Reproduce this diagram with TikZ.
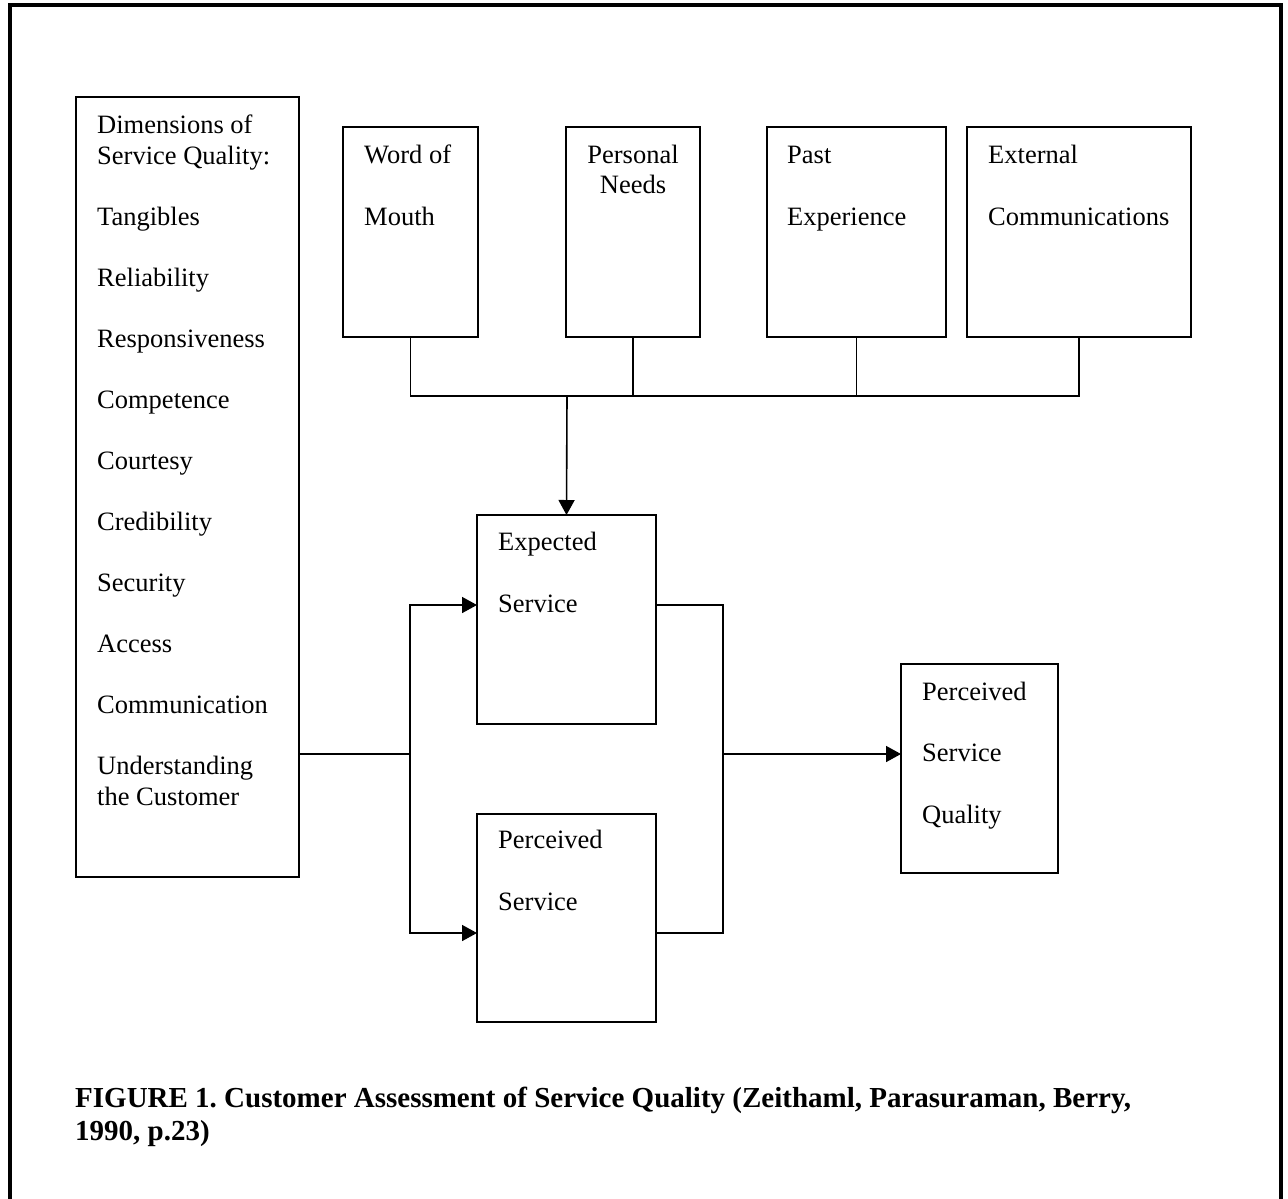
\documentclass[tikz,border=0pt]{standalone}
\usepackage{fontspec}
\setmainfont{Liberation Serif}
\usetikzlibrary{arrows.meta}
\newcommand\bodyfont{\fontsize{26.5bp}{31bp}\selectfont}
\newcommand\captfont{\fontsize{29bp}{33bp}\selectfont\bfseries\frenchspacing}
\begin{document}
\begin{tikzpicture}[x=1bp,y=-1bp,
  box/.style={draw, line width=1.8bp, anchor=north west, inner sep=0pt, outer sep=0pt},
  txt/.style={anchor=base west, inner sep=0pt, font=\bodyfont},
  ctxt/.style={anchor=base, inner sep=0pt, font=\bodyfont},
  wire/.style={line width=1.6bp},
  arr/.style={wire, -{Triangle[length=15bp,width=16bp]}},
  capt/.style={anchor=base west, inner sep=0pt, font=\captfont}]
\useasboundingbox (0,0) rectangle (1288,1199);

% outer frame (open at the bottom edge)
\draw[line width=3.5bp] (10,1199) -- (10,5) -- (1281,5) -- (1281,1199);

% boxes
\node[box, minimum width=223bp, minimum height=780bp] (dims) at (76,97) {};
\node[box, minimum width=135bp, minimum height=210bp] (wom) at (343,127) {};
\node[box, minimum width=134bp, minimum height=210bp] (pn) at (566,127) {};
\node[box, minimum width=179bp, minimum height=210bp] (pe) at (767,127) {};
\node[box, minimum width=224bp, minimum height=210bp] (ec) at (967,127) {};
\node[box, minimum width=179bp, minimum height=209bp] (es) at (477,515) {};
\node[box, minimum width=179bp, minimum height=208bp] (ps) at (477,814) {};
\node[box, minimum width=157bp, minimum height=209bp] (psq) at (901,664) {};

% dimensions list
\node[txt] (dh1) at (97,133) {Dimensions of};
\node[txt] (dh2) at (97,164) {Service Quality:};
\foreach \t [count=\i] in {Tangibles,Reliability,Responsiveness,Competence,Courtesy,Credibility,Security,Access,Communication}
  \node[txt] (d\i) at (97,{225+61*(\i-1)}) {\t};
\node[txt] (d10) at (97,774) {Understanding};
\node[txt] (d11) at (97,805) {the Customer};

% antecedent labels
\node[txt] (wom1) at (364,163) {Word of};
\node[txt] (wom2) at (364,225) {Mouth};
\node[ctxt] (pn1) at (633,163) {Personal};
\node[ctxt] (pn2) at (633,193) {Needs};
\node[txt] (pe1) at (787,163) {Past};
\node[txt] (pe2) at (787,225) {Experience};
\node[txt] (ec1) at (988,163) {External};
\node[txt] (ec2) at (988,225) {Communications};

% service labels
\node[txt] (es1) at (498,550) {Expected};
\node[txt] (es2) at (498,612) {Service};
\node[txt] (ps1) at (498,848) {Perceived};
\node[txt] (ps2) at (498,910) {Service};
\node[txt] (psq1) at (922,700) {Perceived};
\node[txt] (psq2) at (922,761) {Service};
\node[txt] (psq3) at (922,823) {Quality};

% junction points
\coordinate (bus) at (567,396);
\coordinate (split) at (410,754);
\coordinate (esin) at (477,605);
\coordinate (psin) at (477,933);
\coordinate (esout) at (656,605);
\coordinate (psout) at (656,933);
\coordinate (merge) at (723,754);

% antecedents feed expected service
\draw[wire] (wom.south) |- (bus) -| (ec.south);
\draw[wire] (pn.south) -- (pn.south |- bus);
\draw[wire] (pe.south) -- (pe.south |- bus);
\draw[arr] (bus) -- (es.north);

% dimensions feed both services
\draw[wire] (dims.east |- split) -- (split);
\draw[arr] (split) |- (esin);
\draw[arr] (split) |- (psin);

% both services feed perceived service quality
\draw[wire] (esout) -| (merge |- psout) -- (psout);
\draw[arr] (merge) -- (psq.west |- merge);

% caption
\node[capt] (cap1) at (75,1107) {FIGURE 1. Customer Assessment of Service Quality (Zeithaml, Parasuraman, Berry,};
\node[capt] (cap2) at (75,1140) {1990, p.23)};
\end{tikzpicture}
\end{document}
